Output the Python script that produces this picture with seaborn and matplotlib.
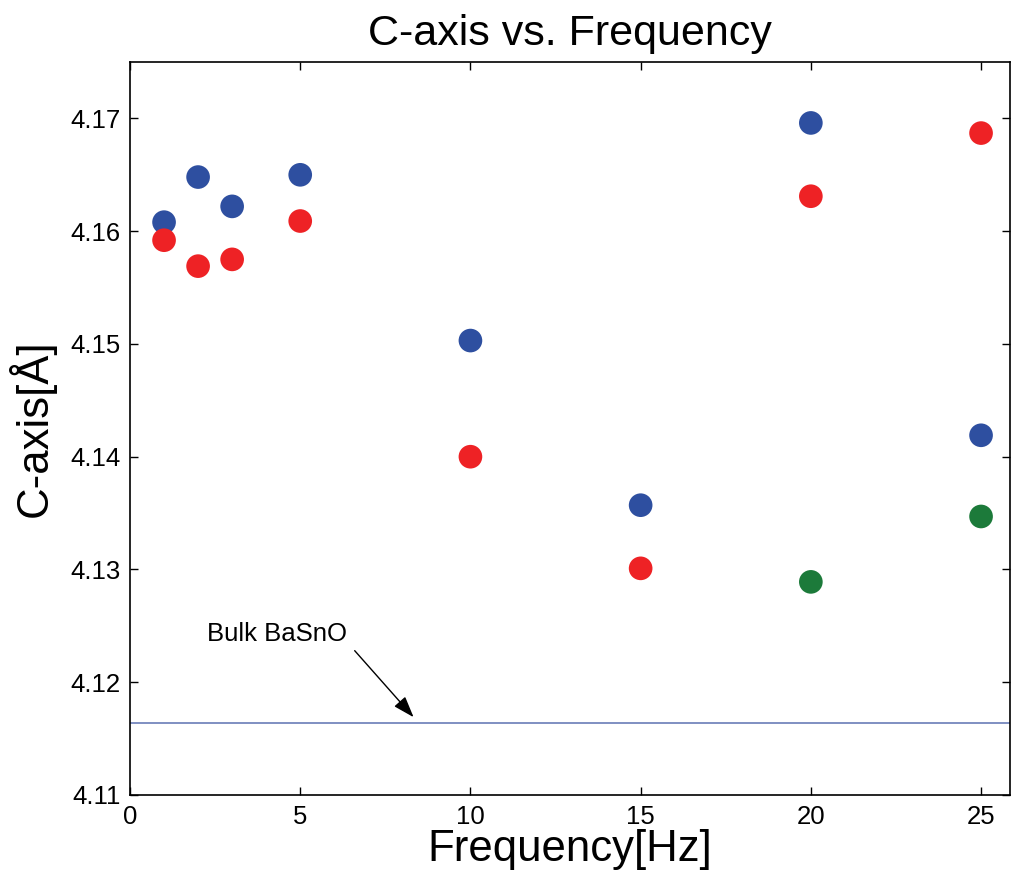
import numpy as np
import pandas as pd
import matplotlib
matplotlib.use("Agg")
import matplotlib.pyplot as plt
import seaborn as sns

freq_blue = [1, 2, 3, 5, 10, 15, 20, 25]
c_blue = [4.1608, 4.1648, 4.1622, 4.1650, 4.1503, 4.1357, 4.1696, 4.1419]
freq_red = [1, 2, 3, 5, 10, 15, 20, 25]
c_red = [4.1592, 4.1569, 4.1575, 4.1609, 4.1400, 4.1301, 4.1631, 4.1687]
freq_green = [20, 25]
c_green = [4.1289, 4.1347]
bulk_c = 4.1164

colors = {"blue": "#2E4FA0", "red": "#EE2225", "green": "#1C7A3A"}

df = pd.concat([
    pd.DataFrame({"f": freq_blue, "c": c_blue, "s": "blue"}),
    pd.DataFrame({"f": freq_red, "c": c_red, "s": "red"}),
    pd.DataFrame({"f": freq_green, "c": c_green, "s": "green"}),
])

sns.set_style("white")
plt.rcParams['font.family'] = ['Liberation Sans', 'DejaVu Sans']
plt.rcParams['text.color'] = 'black'
plt.rcParams['axes.labelcolor'] = 'black'
plt.rcParams['xtick.color'] = 'black'
plt.rcParams['ytick.color'] = 'black'

fig = plt.figure(figsize=(10.11, 8.8), dpi=100)
ax = fig.add_axes([0.1286, 0.0966, 0.8704, 0.8329])

sns.scatterplot(data=df, x="f", y="c", hue="s", palette=colors, s=290,
                edgecolor="none", legend=False, ax=ax, zorder=3)
ax.axhline(bulk_c, color="#6A7DB8", lw=1.2, zorder=2)

ax.text(2.25, 4.1237, "Bulk BaSnO", fontsize=18.5, ha="left", va="baseline",
        color="black")
ax.annotate("", xy=(8.33, 4.1169), xytext=(6.6, 4.1228),
            arrowprops=dict(arrowstyle="-|>,head_length=1.3,head_width=0.45",
                            color="black", lw=1.0, shrinkA=0, shrinkB=0))

ax.set_xlim(0, 25.85)
ax.set_ylim(4.11, 4.175)
ax.set_xticks([0, 5, 10, 15, 20, 25])
ax.set_yticks([4.11, 4.12, 4.13, 4.14, 4.15, 4.16, 4.17])
ax.set_yticklabels(["4.11", "4.12", "4.13", "4.14", "4.15", "4.16", "4.17"])
ax.tick_params(direction="in", length=6, width=1, labelsize=18.5,
               top=True, right=True, left=True, bottom=True, color="black",
               labelcolor="black")
ax.tick_params(axis="y", pad=7)
ax.tick_params(axis="x", pad=7)
for sp in ax.spines.values():
    sp.set_color("black")
    sp.set_linewidth(1.2)

ax.set_xlabel("Frequency[Hz]", fontsize=31.5, labelpad=0, color="black")
ax.set_ylabel("C-axis[Å]", fontsize=31.5, labelpad=10, color="black")
ax.set_title("C-axis vs. Frequency", fontsize=31, pad=12, color="black")

fig.savefig("out.png", dpi=100)
